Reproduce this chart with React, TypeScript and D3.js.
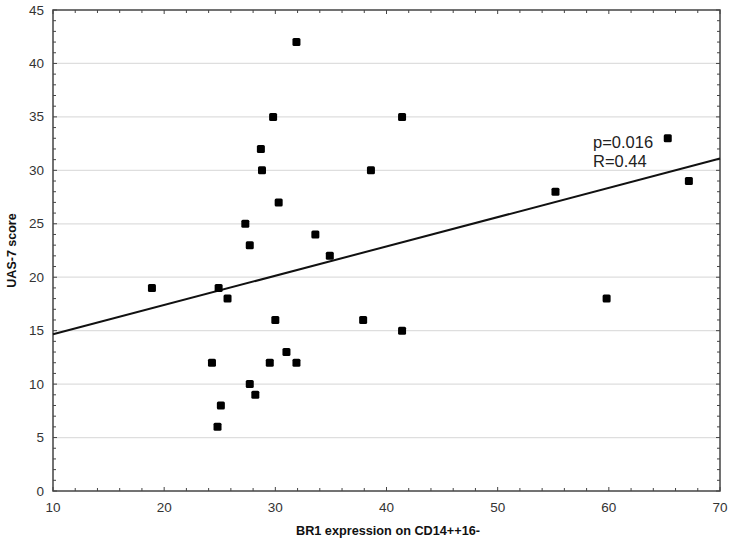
import * as d3 from "d3";
import { useEffect, useRef } from "react";

// BR1 expression on CD14++16- (x) vs UAS-7 score (y)
const br1Values = [
  18.9, 24.3, 24.8, 24.9, 25.1, 25.7, 27.3, 27.7, 27.7, 28.2, 28.7, 28.8, 29.5, 29.8, 30.0,
  30.3, 31.0, 31.9, 31.9, 33.6, 34.9, 37.9, 38.6, 41.4, 41.4, 55.2, 59.8, 65.3, 67.2,
];
const uasScores = [
  19, 12, 6, 19, 8, 18, 25, 23, 10, 9, 32, 30, 12, 35, 16,
  27, 13, 12, 42, 24, 22, 16, 30, 35, 15, 28, 18, 33, 29,
];

// fitted line as drawn in the figure
const fitIntercept = 11.92;
const fitSlope = 0.274;

const xTicks = [10, 20, 30, 40, 50, 60, 70];
const yTicks = [0, 5, 10, 15, 20, 25, 30, 35, 40, 45];
const statLines = ["p=0.016", "R=0.44"];

const App = () => {
  const svgRef = useRef<SVGSVGElement>(null);

  useEffect(() => {
    const svg = d3.select(svgRef.current);
    svg.selectAll("*").remove();

    const width = 732;
    const height = 540;
    const m = { left: 53, right: 12, top: 10, bottom: 49 };

    const x = d3.scaleLinear().domain([10, 70]).range([m.left, width - m.right]);
    const y = d3.scaleLinear().domain([0, 45]).range([height - m.bottom, m.top]);

    const font = "Arial, 'Liberation Sans', sans-serif";

    // grid
    svg.append("g")
      .selectAll("line")
      .data(yTicks.slice(1, -1))
      .enter()
      .append("line")
      .attr("x1", x(10)).attr("x2", x(70))
      .attr("y1", (d) => y(d)).attr("y2", (d) => y(d))
      .attr("stroke", "#dedede")
      .attr("stroke-width", 1.2);

    // minor/major ticks on all four sides (pointing inward)
    const ticks = svg.append("g").attr("stroke", "#444").attr("stroke-width", 1);
    d3.range(10, 70.01, 2).forEach((v) => {
      const len = v % 10 === 0 ? 4 : 3;
      ticks.append("line").attr("x1", x(v)).attr("x2", x(v))
        .attr("y1", y(0)).attr("y2", y(0) - len);
      ticks.append("line").attr("x1", x(v)).attr("x2", x(v))
        .attr("y1", y(45)).attr("y2", y(45) + len);
    });
    d3.range(0, 45.01, 1).forEach((v) => {
      const len = v % 5 === 0 ? 4 : 3;
      ticks.append("line").attr("y1", y(v)).attr("y2", y(v))
        .attr("x1", x(10)).attr("x2", x(10) + len);
      ticks.append("line").attr("y1", y(v)).attr("y2", y(v))
        .attr("x1", x(70)).attr("x2", x(70) - len);
    });

    // frame
    svg.append("rect")
      .attr("x", x(10)).attr("y", y(45))
      .attr("width", x(70) - x(10)).attr("height", y(0) - y(45))
      .attr("fill", "none")
      .attr("stroke", "#444")
      .attr("stroke-width", 1.5);

    // tick labels
    svg.append("g")
      .selectAll("text")
      .data(xTicks)
      .enter()
      .append("text")
      .attr("x", (d) => x(d))
      .attr("y", y(0) + 21)
      .attr("text-anchor", "middle")
      .attr("font-family", font)
      .attr("font-size", 13.5)
      .attr("fill", "#333")
      .text((d) => d);

    svg.append("g")
      .selectAll("text")
      .data(yTicks)
      .enter()
      .append("text")
      .attr("x", x(10) - 9)
      .attr("y", (d) => y(d) + 4.5)
      .attr("text-anchor", "end")
      .attr("font-family", font)
      .attr("font-size", 13.5)
      .attr("fill", "#333")
      .text((d) => d);

    // axis titles
    svg.append("text")
      .attr("x", (x(10) + x(70)) / 2 + 1.5)
      .attr("y", 535)
      .attr("text-anchor", "middle")
      .attr("font-family", font)
      .attr("font-size", 12.7)
      .attr("font-weight", "bold")
      .attr("fill", "#111")
      .text("BR1 expression on CD14++16-");

    svg.append("text")
      .attr("transform", `translate(16, ${(y(0) + y(45)) / 2}) rotate(-90)`)
      .attr("text-anchor", "middle")
      .attr("font-family", font)
      .attr("font-size", 12.5)
      .attr("font-weight", "bold")
      .attr("fill", "#111")
      .text("UAS-7 score");

    // regression line
    const line = d3.line<number>()
      .x((d) => x(d))
      .y((d) => y(fitIntercept + fitSlope * d));
    svg.append("path")
      .attr("d", line([10, 70]))
      .attr("fill", "none")
      .attr("stroke", "#111")
      .attr("stroke-width", 2);

    // points
    const pts = br1Values.map((v, i) => ({ bx: v, uas: uasScores[i] }));
    svg.append("g")
      .selectAll("rect")
      .data(pts)
      .enter()
      .append("rect")
      .attr("x", (d) => x(d.bx) - 4)
      .attr("y", (d) => y(d.uas) - 4)
      .attr("width", 8)
      .attr("height", 8)
      .attr("rx", 1.5)
      .attr("fill", "#000");

    // stats annotation
    svg.append("g")
      .selectAll("text")
      .data(statLines)
      .enter()
      .append("text")
      .attr("x", 593)
      .attr("y", (d, i) => 148 + i * 19)
      .attr("font-family", font)
      .attr("font-size", 16.5)
      .attr("fill", "#222")
      .text((d) => d);
  }, []);

  return (
    <svg
      ref={svgRef}
      width={732}
      height={540}
      style={{ position: "absolute", left: 0, top: 0, background: "#fff" }}
    ></svg>
  );
};

export default App;
